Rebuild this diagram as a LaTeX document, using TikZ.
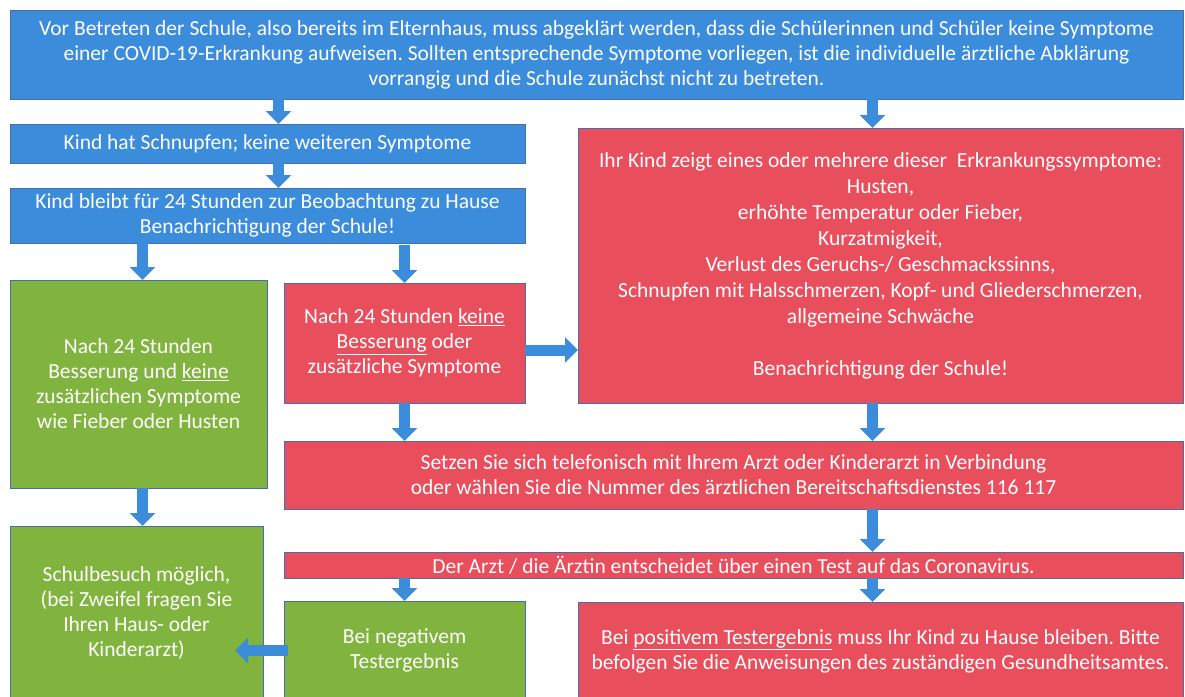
\documentclass[tikz,border=0pt]{standalone}
\usepackage{fontspec}
\setmainfont{Carlito}
\usetikzlibrary{positioning, arrows.meta, calc}
\frenchspacing

\definecolor{schulblau}{RGB}{60,140,220}
\definecolor{schulrot}{RGB}{232,78,92}
\definecolor{schulgruen}{RGB}{128,180,62}
\definecolor{randblau}{RGB}{70,110,170}

\begin{document}
\begin{tikzpicture}[
  x=1pt, y=-1pt,
  every node/.style={font=\fontsize{21.5}{25}\selectfont, text=white, align=center,
    outer sep=0pt, inner sep=1pt, draw=randblau, line width=0.7pt},
  bluebox/.style={fill=schulblau, anchor=north west},
  redbox/.style={fill=schulrot, anchor=north west},
  greenbox/.style={fill=schulgruen, anchor=north west},
  blockarrow/.style={draw=schulblau, line width=11pt, -{Triangle[width=25pt,length=13pt]}}
]

\useasboundingbox (0,0) rectangle (1185,696);

\node[bluebox, minimum width=1173pt, minimum height=89pt] (top) at (10,10)
  {Vor Betreten der Schule, also bereits im Elternhaus, muss abgeklärt werden, dass die Schülerinnen und Schüler keine Symptome\\
   einer COVID-19-Erkrankung aufweisen. Sollten entsprechende Symptome vorliegen, ist die individuelle ärztliche Abklärung\\
   vorrangig und die Schule zunächst nicht zu betreten.};

\node[bluebox, below=25pt of top.south west, anchor=north west, minimum width=515pt, minimum height=39pt] (kind)
  {Kind hat Schnupfen; keine weiteren Symptome};
\node[bluebox, below=25pt of kind.south west, anchor=north west, minimum width=515pt, minimum height=55pt] (bleibt)
  {Kind bleibt für 24 Stunden zur Beobachtung zu Hause\\ Benachrichtigung der Schule!};

\node[greenbox, below=37pt of bleibt.south west, anchor=north west, minimum width=257pt, minimum height=208pt] (besser)
  {Nach 24 Stunden\\ Besserung und \underline{keine}\\ zusätzlichen Symptome\\ wie Fieber oder Husten};
\node[redbox, minimum width=241pt, minimum height=120pt] (schlechter) at (284,283)
  {Nach 24 Stunden \underline{keine}\\ \underline{Besserung} oder\\ zusätzliche Symptome};
\node[redbox, font=\fontsize{21.5}{26}\selectfont, minimum width=605pt, minimum height=275pt] (symptome) at (578,128)
  {Ihr Kind zeigt eines oder mehrere dieser\ \ Erkrankungssymptome:\\ Husten,\\ erhöhte Temperatur oder Fieber,\\
   Kurzatmigkeit,\\ Verlust des Geruchs-/ Geschmackssinns,\\ Schnupfen mit Halsschmerzen, Kopf- und Gliederschmerzen,\\
   allgemeine Schwäche\\[26pt] Benachrichtigung der Schule!};

\node[redbox, minimum width=899pt, minimum height=68pt] (arzt) at (284,441)
  {Setzen Sie sich telefonisch mit Ihrem Arzt oder Kinderarzt in Verbindung\\
   oder wählen Sie die Nummer des ärztlichen Bereitschaftsdienstes 116 117};
\node[redbox, below=43pt of arzt.south west, anchor=north west, minimum width=899pt, minimum height=26pt] (test)
  {Der Arzt / die Ärztin entscheidet über einen Test auf das Coronavirus.};

\node[greenbox, minimum width=253pt, minimum height=174pt] (schule) at (10,526)
  {Schulbesuch möglich,\\ (bei Zweifel fragen Sie\\ Ihren Haus- oder\\ Kinderarzt)};
\node[greenbox, minimum width=241pt, minimum height=99pt] (negativ) at (284,601)
  {Bei negativem\\ Testergebnis};
\node[redbox, minimum width=605pt, minimum height=98pt] (positiv) at (578,602)
  {Bei \underline{positivem Testergebnis} muss Ihr Kind zu Hause bleiben. Bitte\\
   befolgen Sie die Anweisungen des zuständigen Gesundheitsamtes.};

% Pfeile
\draw[blockarrow] ($(kind.north |- top.south)+(11,0)$) -- ($(kind.north)+(11,0)$);
\draw[blockarrow] ($(symptome.north |- top.south)+(-8,0)$) -- ($(symptome.north)+(-8,0)$);
\draw[blockarrow] ($(kind.south)+(11,0)$) -- ($(kind.south |- bleibt.north)+(11,0)$);
\draw[blockarrow] ($(besser.north |- bleibt.south)+(4,0)$) -- ($(besser.north)+(4,0)$);
\draw[blockarrow] ($(schlechter.north |- bleibt.south)+(0,2)$) -- (schlechter.north);
\draw[blockarrow] ($(schlechter.east)+(0,7)$) -- ($(schlechter.east -| symptome.west)+(0,7)$);
\draw[blockarrow] (schlechter.south) -- (schlechter.south |- arzt.north);
\draw[blockarrow] ($(symptome.south)+(-8,0)$) -- ($(symptome.south |- arzt.north)+(-8,0)$);
\draw[blockarrow] ($(besser.south)+(4,0)$) -- ($(besser.south |- schule.north)+(4,0)$);
\draw[blockarrow] ($(symptome.south |- arzt.south)+(-8,0)$) -- ($(symptome.south |- test.north)+(-8,0)$);
\draw[blockarrow] (negativ.north |- test.south) -- (negativ.north);
\draw[blockarrow] ($(positiv.north |- test.south)+(-8,0)$) -- ($(positiv.north)+(-8,0)$);
\draw[blockarrow] ($(negativ.west)+(4,0)$) -- ($(schule.east |- negativ.west)+(-28,0)$);

\end{tikzpicture}
\end{document}
